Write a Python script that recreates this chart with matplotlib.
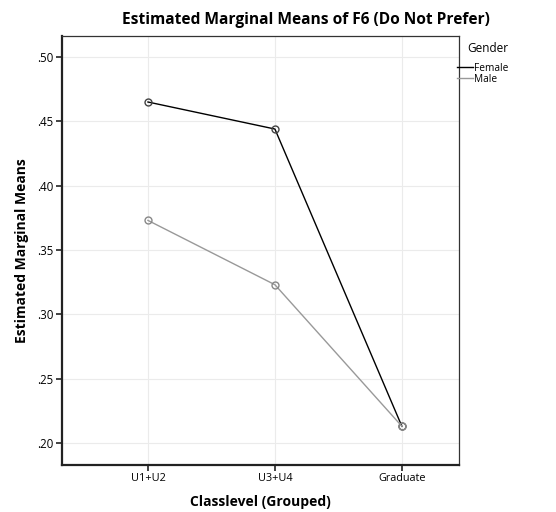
import numpy as np
import matplotlib.pyplot as plt

categories = ["U1+U2", "U3+U4", "Graduate"]
female = [0.465, 0.444, 0.213]
male = [0.373, 0.323, 0.213]
yticks = [0.20, 0.25, 0.30, 0.35, 0.40, 0.45, 0.50]
ytick_labels = [".20", ".25", ".30", ".35", ".40", ".45", ".50"]

plt.rcParams['font.family'] = ['Open Sans', 'DejaVu Sans']

fig = plt.figure(figsize=(5.56, 5.12), dpi=100)
ax = fig.add_axes([62/556, 1-465/512, (459-62)/556, (465-36)/512])

x = np.arange(len(categories))
ax.plot(x, female, '-o', color='black', lw=1, ms=5, mfc='none', mec='#444444', mew=1, zorder=3)
ax.plot(x, male, '-o', color='#999999', lw=1, ms=5, mfc='none', mec='#888888', mew=1, zorder=3)

ax.set_xlim(-0.677, 2.45)
ax.set_ylim(0.1829, 0.5163)
ax.set_xticks(x)
ax.set_xticklabels(categories, fontsize=7.8)
ax.set_yticks(yticks)
ax.set_yticklabels(ytick_labels, fontsize=8.3)
ax.grid(True, color='#ebebeb', lw=0.8)
ax.set_axisbelow(True)
ax.tick_params(length=4, width=1.2, color='#222222', pad=2)

for s in ['left', 'bottom']:
    ax.spines[s].set_linewidth(1.6)
    ax.spines[s].set_color('#222222')
for s in ['top', 'right']:
    ax.spines[s].set_linewidth(0.9)
    ax.spines[s].set_color('#333333')

ax.set_title("Estimated Marginal Means of F6 (Do Not Prefer)", fontsize=11.2,
             fontweight='bold', x=0.615, pad=9)
ax.set_xlabel("Classlevel (Grouped)", fontsize=10, fontweight='bold', labelpad=8)
ax.set_ylabel("Estimated Marginal Means", fontsize=10, fontweight='bold', labelpad=6)

# legend drawn at right of plot
fig.text(467/556, 1-48/512, "Gender", fontsize=8.5, va='center', ha='left')
leg = ax.legend(["Female", "Male"], loc='upper left', bbox_to_anchor=(0.995, 0.937),
                frameon=False, fontsize=7.3, handlelength=1.6, handletextpad=0.1,
                labelspacing=0.0, borderaxespad=0, borderpad=0)
for h in leg.legend_handles:
    h.set_marker('')

fig.savefig("out.png", dpi=100)
